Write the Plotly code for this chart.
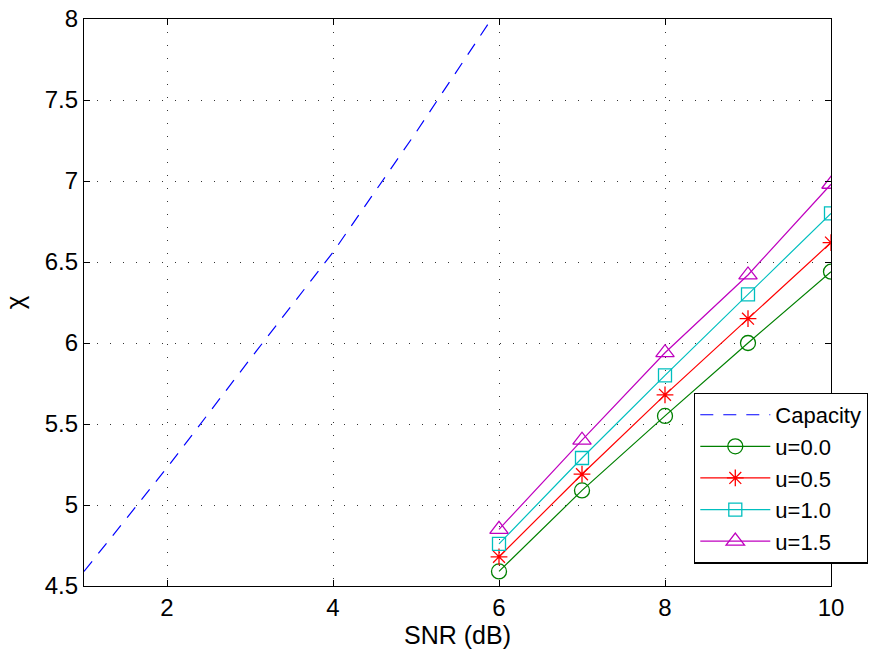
import plotly.graph_objects as go

# ---- data ----
cap_snr = [1, 2, 3, 4, 5, 6]
cap_chi = [4.59, 5.23, 5.90, 6.56, 7.30, 8.07]

snr = [6, 7, 8, 9, 10]
u00 = [4.59, 5.09, 5.55, 6.00, 6.44]
u05 = [4.68, 5.19, 5.68, 6.15, 6.62]
u10 = [4.76, 5.29, 5.80, 6.30, 6.80]
u15 = [4.85, 5.40, 5.94, 6.42, 6.98]

x_ticks = [2, 4, 6, 8, 10]
y_ticks = [4.5, 5, 5.5, 6, 6.5, 7, 7.5, 8]

FONT = "Liberation Sans, Arial, Helvetica, sans-serif"

fig = go.Figure()
fig.add_trace(go.Scatter(x=cap_snr, y=cap_chi, mode="lines", name="Capacity",
                         line=dict(color="#0000FF", width=1.2, dash="13px,10px")))
series = [
    ("u=0.0", u00, "#008000", "circle-open", 15),
    ("u=0.5", u05, "#FF0000", "asterisk-open", 14),
    ("u=1.0", u10, "#00BFBF", "square-open", 13),
    ("u=1.5", u15, "#BF00BF", "triangle-up-open", 16),
]
for name, ys, col, sym, sz in series:
    fig.add_trace(go.Scatter(x=snr, y=ys, mode="lines+markers", name=name,
                             line=dict(color=col, width=1.2),
                             marker=dict(symbol=sym, size=sz, color=col,
                                         line=dict(color=col, width=1.3))))

axis_common = dict(showline=True, linecolor="black", linewidth=1.3, mirror="ticks",
                   ticks="inside", ticklen=6, tickcolor="black", tickwidth=1,
                   showgrid=True, gridcolor="#333333", gridwidth=1, griddash="1px,12px",
                   zeroline=False, automargin=False,
                   tickfont=dict(family=FONT, size=24, color="black"))

fig.update_xaxes(range=[1, 10], tickvals=x_ticks, ticktext=[str(v) for v in x_ticks],
                 title=dict(text="SNR (dB)", font=dict(family=FONT, size=25, color="black"), standoff=6),
                 **axis_common)
fig.update_yaxes(range=[4.5, 8], tickvals=y_ticks, ticktext=[("%g" % v) for v in y_ticks],
                 title=dict(text="χ", font=dict(family=FONT, size=26, color="black"), standoff=16),
                 **axis_common)

fig.update_layout(
    width=895, height=658,
    margin=dict(l=84, r=64, t=19, b=72, autoexpand=False),
    paper_bgcolor="white", plot_bgcolor="white",
    font=dict(family=FONT, color="black"),
    legend=dict(x=0.8166, y=0.341, xanchor="left", yanchor="top",
                bgcolor="white", bordercolor="black", borderwidth=1.3,
                font=dict(family=FONT, size=22, color="black"),
                tracegroupgap=0, itemwidth=70,
                entrywidth=195, entrywidthmode="pixels"),
    showlegend=True,
)

fig.write_html("out.html")
